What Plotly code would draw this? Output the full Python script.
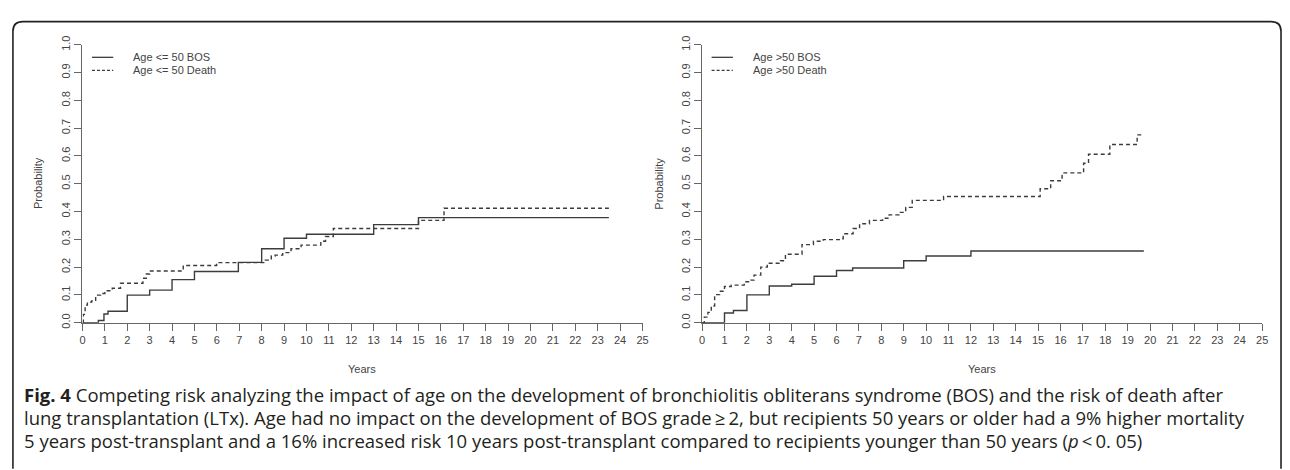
import plotly.graph_objects as go

# ---------------- data ----------------
years_ticks = list(range(0, 26))
prob_ticks = [round(i * 0.1, 1) for i in range(11)]

left_bos_t = [0, 0.71, 0.96, 1.14, 2.0, 3.0, 4.0, 5.0, 6.96, 8.0, 9.0, 10.0, 13.0, 15.0, 23.5]
left_bos_p = [0, 0.008, 0.031, 0.041, 0.099, 0.117, 0.155, 0.184, 0.217, 0.266, 0.304, 0.318, 0.353, 0.378, 0.378]

left_death_t = [0, 0.04, 0.12, 0.22, 0.41, 0.59, 0.81, 1.0, 1.33, 1.7, 2.7, 2.85, 3.0, 4.5, 5.99,
                8.16, 8.43, 8.6, 8.94, 9.31, 9.76, 10.64, 10.85, 11.2, 15.0, 16.14, 23.5]
left_death_p = [0, 0.03, 0.063, 0.074, 0.078, 0.099, 0.105, 0.115, 0.124, 0.142, 0.16, 0.175, 0.186, 0.206, 0.216,
                0.225, 0.24, 0.243, 0.252, 0.266, 0.279, 0.293, 0.31, 0.339, 0.368, 0.412, 0.412]

right_bos_t = [0, 1.0, 1.4, 2.0, 3.0, 4.0, 5.0, 6.0, 6.72, 9.0, 10.0, 12.0, 19.72]
right_bos_p = [0, 0.035, 0.044, 0.1, 0.132, 0.138, 0.167, 0.188, 0.197, 0.223, 0.24, 0.258, 0.258]

right_death_t = [0, 0.1, 0.26, 0.41, 0.56, 0.78, 1.0, 1.3, 1.88, 2.18, 2.32, 2.62, 2.91, 3.5, 3.72, 4.46,
                 4.97, 5.41, 6.22, 6.3, 6.74, 7.03, 7.47, 8.06, 8.35, 8.79, 9.09, 9.38, 10.78, 15.09,
                 15.56, 16.07, 17.03, 17.25, 18.2, 19.42, 19.72]
right_death_p = [0, 0.02, 0.037, 0.06, 0.101, 0.113, 0.13, 0.135, 0.147, 0.153, 0.171, 0.2, 0.214, 0.223, 0.246, 0.281,
                 0.293, 0.299, 0.302, 0.32, 0.339, 0.356, 0.368, 0.376, 0.388, 0.397, 0.415, 0.44, 0.454, 0.482,
                 0.511, 0.539, 0.574, 0.606, 0.641, 0.676, 0.676]

left_labels = ["Age <= 50 BOS", "Age <= 50 Death"]
right_labels = ["Age >50 BOS", "Age >50 Death"]

caption_lines = [
    "<b>Fig. 4</b> Competing risk analyzing the impact of age on the development of bronchiolitis obliterans syndrome (BOS) and the risk of death after",
    "lung transplantation (LTx). Age had no impact on the development of BOS grade\u2009\u2265\u20092, but recipients 50 years or older had a 9% higher mortality",
    "5 years post-transplant and a 16% increased risk 10 years post-transplant compared to recipients younger than 50 years (<i>p</i>\u2009<\u20090. 05)",
]

# ---------------- figure ----------------
W, H = 1290, 470
CURVE = "#3c3c3c"
AXIS = "#666666"
TXT = "#444444"
RFONT = "Liberation Sans, Arial, sans-serif"

fig = go.Figure()

def add_pair(t1, p1, t2, p2, names, xa, ya):
    fig.add_trace(go.Scatter(x=t1, y=p1, mode="lines", line=dict(shape="hv", color=CURVE, width=1.4),
                             name=names[0], xaxis=xa, yaxis=ya, showlegend=False))
    fig.add_trace(go.Scatter(x=t2, y=p2, mode="lines", line=dict(shape="hv", color=CURVE, width=1.4, dash="4px,3px"),
                             name=names[1], xaxis=xa, yaxis=ya, showlegend=False))

add_pair(left_bos_t, left_bos_p, left_death_t, left_death_p, left_labels, "x", "y")
add_pair(right_bos_t, right_bos_p, right_death_t, right_death_p, right_labels, "x2", "y2")

def px_x(v):
    return v / W

def px_y(v):
    return 1 - v / H

ydom = [px_y(324), px_y(37)]
xdom1 = [px_x(80), px_x(644)]
xdom2 = [px_x(704), px_x(1268)]

xcommon = dict(range=[0, 25], tickvals=years_ticks, ticktext=[str(v) for v in years_ticks],
               showline=True, linecolor=AXIS, linewidth=1, ticks="outside", ticklen=7, tickcolor=AXIS,
               tickfont=dict(family=RFONT, size=11, color=TXT), showgrid=False, zeroline=False, fixedrange=True)
ycommon = dict(range=[0, 1], tickvals=prob_ticks, ticktext=[f"{v:.1f}" for v in prob_ticks], tickangle=-90,
               showline=True, linecolor=AXIS, linewidth=1, ticks="outside", ticklen=7, tickcolor=AXIS,
               tickfont=dict(family=RFONT, size=11, color=TXT), showgrid=False, zeroline=False, fixedrange=True)

fig.update_layout(
    width=W, height=H,
    margin=dict(l=0, r=0, t=0, b=0),
    paper_bgcolor="white", plot_bgcolor="white",
    showlegend=False,
    xaxis=dict(domain=xdom1, anchor="y", **xcommon),
    yaxis=dict(domain=ydom, anchor="x", **ycommon),
    xaxis2=dict(domain=xdom2, anchor="y2", **xcommon),
    yaxis2=dict(domain=ydom, anchor="x2", **ycommon),
)

shapes = []
annotations = []

# legends (drawn in axis-domain coordinates)
for xa, labels in (("x", left_labels), ("x2", right_labels)):
    dx = f"{xa} domain"
    dy = "y domain" if xa == "x" else "y2 domain"
    for i, lab in enumerate(labels):
        yy = 0.955 - i * 0.047
        shapes.append(dict(type="line", xref=dx, yref=dy, x0=0.017, x1=0.055, y0=yy, y1=yy,
                           line=dict(color=CURVE, width=1.3, dash="solid" if i == 0 else "3px,2px")))
        annotations.append(dict(xref=dx, yref=dy, x=0.087, y=yy, text=lab, showarrow=False,
                                xanchor="left", yanchor="middle",
                                font=dict(family=RFONT, size=11, color=TXT)))
    annotations.append(dict(xref=dx, yref="paper", x=0.5, y=px_y(372), text="Years", showarrow=False,
                            xanchor="center", yanchor="middle", font=dict(family=RFONT, size=11, color=TXT)))

for xpos in (36, 661):
    annotations.append(dict(xref="paper", yref="paper", x=px_x(xpos), y=px_y(180), text="Probability",
                            textangle=-90, showarrow=False, xanchor="center", yanchor="middle",
                            font=dict(family=RFONT, size=11, color=TXT)))

# caption
for i, line in enumerate(caption_lines):
    annotations.append(dict(xref="paper", yref="paper", x=px_x(19), y=px_y(398 + i * 24), text=line,
                            showarrow=False, xanchor="left", yanchor="middle", align="left",
                            font=dict(family="Open Sans, sans-serif", size=18.5, color="#231f20")))

# rounded frame (open at bottom)
r = 10
L, T, R, B = 10, 13, 1287, 475
path = (f"M {px_x(L)},{px_y(B)} L {px_x(L)},{px_y(T + r)} Q {px_x(L)},{px_y(T)} {px_x(L + r)},{px_y(T)} "
        f"L {px_x(R - r)},{px_y(T)} Q {px_x(R)},{px_y(T)} {px_x(R)},{px_y(T + r)} L {px_x(R)},{px_y(B)}")
shapes.append(dict(type="path", xref="paper", yref="paper", path=path, line=dict(color="#222222", width=1.6)))

fig.update_layout(shapes=shapes, annotations=annotations)
fig.write_html("out.html", config={"displayModeBar": False})

# remove the default page margin so the figure sits at the window origin
with open("out.html", "r", encoding="utf-8") as f:
    html = f.read()
html = html.replace("<head>", "<head><style>html,body{margin:0;padding:0;overflow:hidden;}</style>", 1)
with open("out.html", "w", encoding="utf-8") as f:
    f.write(html)
